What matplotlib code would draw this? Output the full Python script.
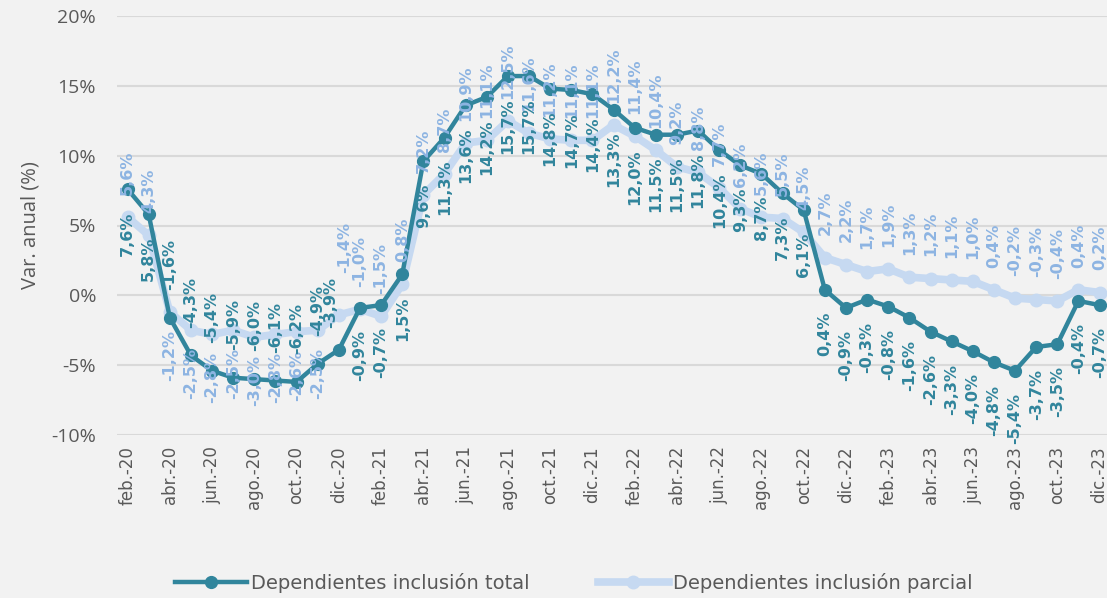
import matplotlib
matplotlib.use("Agg")
import matplotlib.pyplot as plt
from matplotlib.lines import Line2D

months = ["ene.", "feb.", "mar.", "abr.", "may.", "jun.", "jul.", "ago.", "sep.", "oct.", "nov.", "dic."]
periods = [f"{m}-{y}" for y in ["20", "21", "22", "23"] for m in months][1:]

total = [7.6, 5.8, -1.6, -4.3, -5.4, -5.9, -6.0, -6.1, -6.2, -4.9, -3.9,
         -0.9, -0.7, 1.5, 9.6, 11.3, 13.6, 14.2, 15.7, 15.7, 14.8, 14.7, 14.4,
         13.3, 12.0, 11.5, 11.5, 11.8, 10.4, 9.3, 8.7, 7.3, 6.1, 0.4, -0.9,
         -0.3, -0.8, -1.6, -2.6, -3.3, -4.0, -4.8, -5.4, -3.7, -3.5, -0.4, -0.7]
parcial = [5.6, 4.3, -1.2, -2.5, -2.8, -2.5, -3.0, -2.8, -2.6, -2.5, -1.4,
           -1.0, -1.5, 0.8, 7.2, 8.7, 10.9, 11.1, 12.5, 11.6, 11.2, 11.1, 11.1,
           12.2, 11.4, 10.4, 9.2, 8.8, 7.7, 6.2, 5.6, 5.5, 4.5, 2.7, 2.2,
           1.7, 1.9, 1.3, 1.2, 1.1, 1.0, 0.4, -0.2, -0.3, -0.4, 0.4, 0.2]

c_total = "#31859c"
c_parc = "#c6d9f1"
c_parc_lab = "#8db4e2"
bg = "#f2f2f2"
grey = "#595959"

fig = plt.figure(figsize=(11.07, 5.98), dpi=100, facecolor=bg)
ax = fig.add_axes([117/1107, 1-435/598, 990/1107, 419/598])
ax.set_facecolor(bg)

x = list(range(len(periods)))
ax.plot(x, parcial, color=c_parc, lw=5.5, marker="o", ms=9, zorder=2, solid_capstyle="round")
ax.plot(x, total, color=c_total, lw=3.2, marker="o", ms=8.5, zorder=3)

def fmt(v):
    return f"{v:.1f}%".replace(".", ",")

# labels of abr.-20 .. dic.-20 swapped sides (as in the reference)
swap_total = set(range(2, 11))
swap_parc = set(range(2, 10))

for xi, v in zip(x, parcial):
    if xi in swap_parc:
        dx, dy, va = 0, -13, "top"
    elif xi == 10:
        dx, dy, va = 4, 30, "bottom"
    else:
        dx, dy, va = 0, 16, "bottom"
    ax.annotate(fmt(v), (xi, v), xytext=(dx, dy), textcoords="offset points",
                rotation=90, ha="center", va=va, color=c_parc_lab,
                fontsize=11.5, fontweight="bold", zorder=4)
for xi, v in zip(x, total):
    if xi == 10:
        dx, dy, va = -6, 16, "bottom"
    elif xi in swap_total:
        dx, dy, va = 0, 20, "bottom"
    else:
        dx, dy, va = 0, -16, "top"
    ax.annotate(fmt(v), (xi, v), xytext=(dx, dy), textcoords="offset points",
                rotation=90, ha="center", va=va, color=c_total,
                fontsize=11.5, fontweight="bold", zorder=5)

ax.set_ylim(-10, 20)
ax.set_yticks(range(-10, 21, 5))
ax.set_yticklabels([f"{t}%" for t in range(-10, 21, 5)], fontsize=14, color=grey, family="Open Sans")
ax.set_xlim(-0.5, -0.5 + 990/21.13)
ax.set_xticks(x[::2])
ax.set_xticklabels(periods[::2], rotation=90, fontsize=12, color=grey, va="top")
ax.tick_params(axis="both", length=0)
ax.tick_params(axis="x", pad=8)
ax.tick_params(axis="y", pad=15)
ax.grid(axis="y", color="#d9d9d9", lw=1.5)
ax.set_axisbelow(True)
for s in ax.spines.values():
    s.set_visible(False)
ax.set_ylabel("Var. anual (%)", fontsize=14.5, color=grey, family="Open Sans", labelpad=8)

handles = [Line2D([], [], color=c_total, lw=3.2, marker="o", ms=8.5),
           Line2D([], [], color=c_parc, lw=5.5, marker="o", ms=9)]
fig.legend(handles, ["Dependientes inclusión total", "Dependientes inclusión parcial"],
           loc="center", bbox_to_anchor=(574/1107, 1-583/598), ncol=2, frameon=False,
           handlelength=3.7, handletextpad=0.2, columnspacing=3.5,
           prop={"family": ["Liberation Sans Narrow", "DejaVu Sans"], "size": 14},
           labelcolor=grey)

fig.savefig("out.png", dpi=100, facecolor=bg)
